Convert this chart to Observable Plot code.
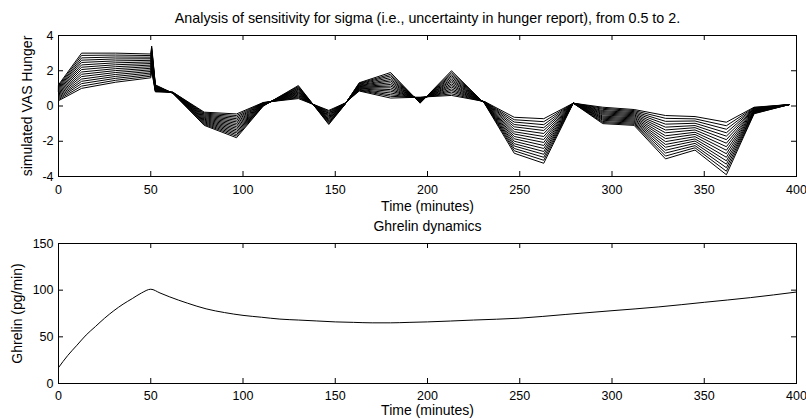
<!DOCTYPE html>
<html><head><meta charset="utf-8">
<script src="https://cdn.jsdelivr.net/npm/d3@7"></script>
<script src="https://cdn.jsdelivr.net/npm/@observablehq/plot@0.6"></script>
<style>
html,body{margin:0;padding:0;background:#fff;}
#chart{position:relative;width:806px;height:419px;overflow:hidden;background:#fff;}
#chart svg{position:absolute;left:0;display:block;overflow:visible;}
</style></head><body><div id="chart"></div>
<script>
// ---- data ----
const topTitle = "Analysis of sensitivity for sigma (i.e., uncertainty in hunger report), from 0.5 to 2.";
const topYLabel = "simulated VAS Hunger";
const bottomTitle = "Ghrelin dynamics";
const bottomYLabel = "Ghrelin (pg/min)";
const xLabel = "Time (minutes)";

const sigmas = [0.5,0.6,0.7,0.8,0.9,1.0,1.1,1.2,1.3,1.4,1.5,1.6,1.7,1.8,1.9,2.0];
const minutes = [0,12.5,31,50,50.5,52.5,62,79,96.5,111,130,146.5,155,163,180,196,213,231,247,263,279,295,312,329,345,362,377,396];
// one row per time point, one value per sigma (same order as sigmas)
const vasByTime = [
  [.30,.36,.42,.48,.54,.60,.66,.72,.78,.84,.90,.96,1.02,1.08,1.14,1.20],
  [1.00,1.13,1.27,1.40,1.53,1.67,1.80,1.93,2.07,2.20,2.33,2.47,2.60,2.73,2.87,3.00],
  [1.35,1.46,1.57,1.68,1.79,1.90,2.01,2.12,2.23,2.34,2.45,2.56,2.67,2.78,2.89,3.00],
  [1.60,1.69,1.78,1.87,1.96,2.05,2.14,2.23,2.32,2.41,2.50,2.59,2.68,2.77,2.86,2.95],
  [2.00,2.09,2.19,2.28,2.37,2.47,2.56,2.65,2.75,2.84,2.93,3.03,3.12,3.21,3.31,3.40],
  [.80,.83,.85,.88,.91,.93,.96,.99,1.01,1.04,1.07,1.09,1.12,1.15,1.17,1.20],
  [.78,.78,.77,.77,.76,.76,.76,.75,.75,.74,.74,.74,.73,.73,.72,.72],
  [-.35,-.40,-.45,-.50,-.55,-.60,-.65,-.70,-.75,-.80,-.85,-.90,-.95,-1.00,-1.05,-1.10],
  [-.45,-.54,-.63,-.72,-.81,-.90,-.99,-1.08,-1.17,-1.26,-1.35,-1.44,-1.53,-1.62,-1.71,-1.80],
  [.20,.19,.17,.16,.15,.13,.12,.11,.09,.08,.07,.05,.04,.03,.01,.00],
  [.42,.47,.52,.57,.62,.67,.72,.77,.81,.86,.91,.96,1.01,1.06,1.11,1.16],
  [-.25,-.30,-.36,-.41,-.46,-.52,-.57,-.62,-.68,-.73,-.78,-.84,-.89,-.94,-1.00,-1.05],
  [.15,.14,.14,.13,.12,.12,.11,.10,.10,.09,.08,.08,.07,.06,.06,.05],
  [.85,.88,.91,.94,.98,1.01,1.04,1.07,1.10,1.13,1.16,1.19,1.23,1.26,1.29,1.32],
  [.45,.55,.64,.74,.84,.93,1.03,1.13,1.22,1.32,1.42,1.51,1.61,1.71,1.80,1.90],
  [.50,.48,.45,.43,.41,.39,.36,.34,.32,.30,.27,.25,.23,.21,.18,.16],
  [.60,.69,.79,.88,.97,1.07,1.16,1.25,1.35,1.44,1.53,1.63,1.72,1.81,1.91,2.00],
  [.25,.24,.23,.23,.22,.21,.20,.19,.19,.18,.17,.16,.15,.15,.14,.13],
  [-.64,-.78,-.91,-1.05,-1.18,-1.32,-1.46,-1.59,-1.73,-1.86,-2.00,-2.14,-2.27,-2.41,-2.54,-2.68],
  [-.72,-.89,-1.06,-1.23,-1.39,-1.56,-1.73,-1.90,-2.07,-2.24,-2.41,-2.58,-2.74,-2.91,-3.08,-3.25],
  [.16,.16,.16,.16,.16,.16,.16,.16,.16,.16,.16,.16,.16,.16,.16,.16],
  [-.07,-.13,-.19,-.26,-.32,-.38,-.44,-.50,-.57,-.63,-.69,-.75,-.81,-.88,-.94,-1.00],
  [-.20,-.26,-.32,-.38,-.44,-.50,-.56,-.62,-.68,-.74,-.80,-.86,-.92,-.98,-1.04,-1.10],
  [-.54,-.70,-.87,-1.03,-1.20,-1.36,-1.52,-1.69,-1.85,-2.02,-2.18,-2.34,-2.51,-2.67,-2.84,-3.00],
  [-.60,-.73,-.85,-.98,-1.11,-1.23,-1.36,-1.49,-1.61,-1.74,-1.87,-1.99,-2.12,-2.25,-2.37,-2.50],
  [-.92,-1.12,-1.32,-1.52,-1.71,-1.91,-2.11,-2.31,-2.51,-2.71,-2.91,-3.11,-3.30,-3.50,-3.70,-3.90],
  [-.07,-.09,-.12,-.14,-.17,-.19,-.22,-.24,-.27,-.29,-.32,-.34,-.37,-.39,-.42,-.44],
  [.08,.08,.08,.08,.08,.08,.08,.08,.08,.08,.08,.08,.08,.08,.08,.08]
];

const ghrelinMinutes = [0,5,10,15,20,25,30,35,40,45,50,55,60,70,80,90,100,110,120,130,140,150,160,170,180,190,200,225,250,275,300,325,350,375,400];
const ghrelinValues  = [17,30,41,52,61,70,78,85,91,97,101,97,93,86,80,76,73,71,69,68,67,66,65.5,65,65,65.5,66,68,70,74,78,82,87,92,98];

const xTicks = [0,50,100,150,200,250,300,350,400];
const vasTicks = [-4,-2,0,2,4];
const ghrelinTicks = [0,50,100,150];

// ---- drawing ----
const W = 806, ML = 58, MR = 10;
const innerW = W - ML - MR;
const fontFamily = "'Liberation Sans', Arial, Helvetica, sans-serif";
const fmt = d => String(d); // hyphen-minus, as in the reference

function boxTicks(xt, yt, innerH, len) {
  return [
    Plot.ruleX(xt, {x: d => d, insetTop: innerH - len, stroke: "black"}),
    Plot.ruleX(xt, {x: d => d, insetBottom: innerH - len, stroke: "black"}),
    Plot.ruleY(yt, {y: d => d, insetRight: innerW - len, stroke: "black"}),
    Plot.ruleY(yt, {y: d => d, insetLeft: innerW - len, stroke: "black"})
  ];
}

const vasRows = [];
sigmas.forEach((s, k) => {
  minutes.forEach((m, i) => vasRows.push({minute: m, vas: vasByTime[i][k], sigma: s}));
});
const ghrelinRows = ghrelinMinutes.map((m, i) => ({minute: m, ghrelin: ghrelinValues[i]}));

const textOpts = {fontWeight: "normal", fill: "black", stroke: "none"};

const topH = 210, topMT = 35, topMB = 34;
const topPlot = Plot.plot({
  width: W, height: topH,
  marginLeft: ML, marginRight: MR, marginTop: topMT, marginBottom: topMB,
  style: {fontFamily, fontSize: "12px", background: "transparent", color: "black", overflow: "visible"},
  x: {domain: [0, 400]},
  y: {domain: [-4, 4]},
  marks: [
    Plot.line(vasRows, {x: "minute", y: "vas", z: "sigma", stroke: "black", strokeWidth: 1}),
    Plot.frame({stroke: "black"}),
    ...boxTicks(xTicks, vasTicks, topH - topMT - topMB, 5),
    Plot.axisX(xTicks, {tickSize: 0, tickPadding: 9, label: null, fontSize: 12.5, tickFormat: fmt}),
    Plot.axisY(vasTicks, {tickSize: 0, tickPadding: 5, label: null, fontSize: 12.5, tickFormat: fmt}),
    Plot.text([topTitle], {frameAnchor: "top", dy: -17, lineAnchor: "middle", textAnchor: "middle", fontSize: 14.3, ...textOpts}),
    Plot.text([xLabel], {frameAnchor: "bottom", dy: 30, lineAnchor: "middle", textAnchor: "middle", fontSize: 14, ...textOpts}),
    Plot.text([topYLabel], {frameAnchor: "left", dx: -31, rotate: -90, lineAnchor: "middle", textAnchor: "middle", fontSize: 14, ...textOpts})
  ]
});

const botH = 209, botMT = 33, botMB = 36;
const bottomPlot = Plot.plot({
  width: W, height: botH,
  marginLeft: ML, marginRight: MR, marginTop: botMT, marginBottom: botMB,
  style: {fontFamily, fontSize: "12px", background: "transparent", color: "black", overflow: "visible"},
  x: {domain: [0, 400]},
  y: {domain: [0, 150]},
  marks: [
    Plot.line(ghrelinRows, {x: "minute", y: "ghrelin", stroke: "black", strokeWidth: 1, curve: "monotone-x"}),
    Plot.frame({stroke: "black"}),
    ...boxTicks(xTicks, ghrelinTicks, botH - botMT - botMB, 5),
    Plot.axisX(xTicks, {tickSize: 0, tickPadding: 8, label: null, fontSize: 12.5, tickFormat: fmt}),
    Plot.axisY(ghrelinTicks, {tickSize: 0, tickPadding: 5, label: null, fontSize: 12.5, tickFormat: fmt}),
    Plot.text([bottomTitle], {frameAnchor: "top", dy: -17, lineAnchor: "middle", textAnchor: "middle", fontSize: 14, ...textOpts}),
    Plot.text([xLabel], {frameAnchor: "bottom", dy: 27, lineAnchor: "middle", textAnchor: "middle", fontSize: 14, ...textOpts}),
    Plot.text([bottomYLabel], {frameAnchor: "left", dx: -41, rotate: -90, lineAnchor: "middle", textAnchor: "middle", fontSize: 14, ...textOpts})
  ]
});

const chart = document.getElementById("chart");
topPlot.style.top = "0px";
bottomPlot.style.top = "210px";
chart.appendChild(bottomPlot);
chart.appendChild(topPlot);
</script>
</body></html>
